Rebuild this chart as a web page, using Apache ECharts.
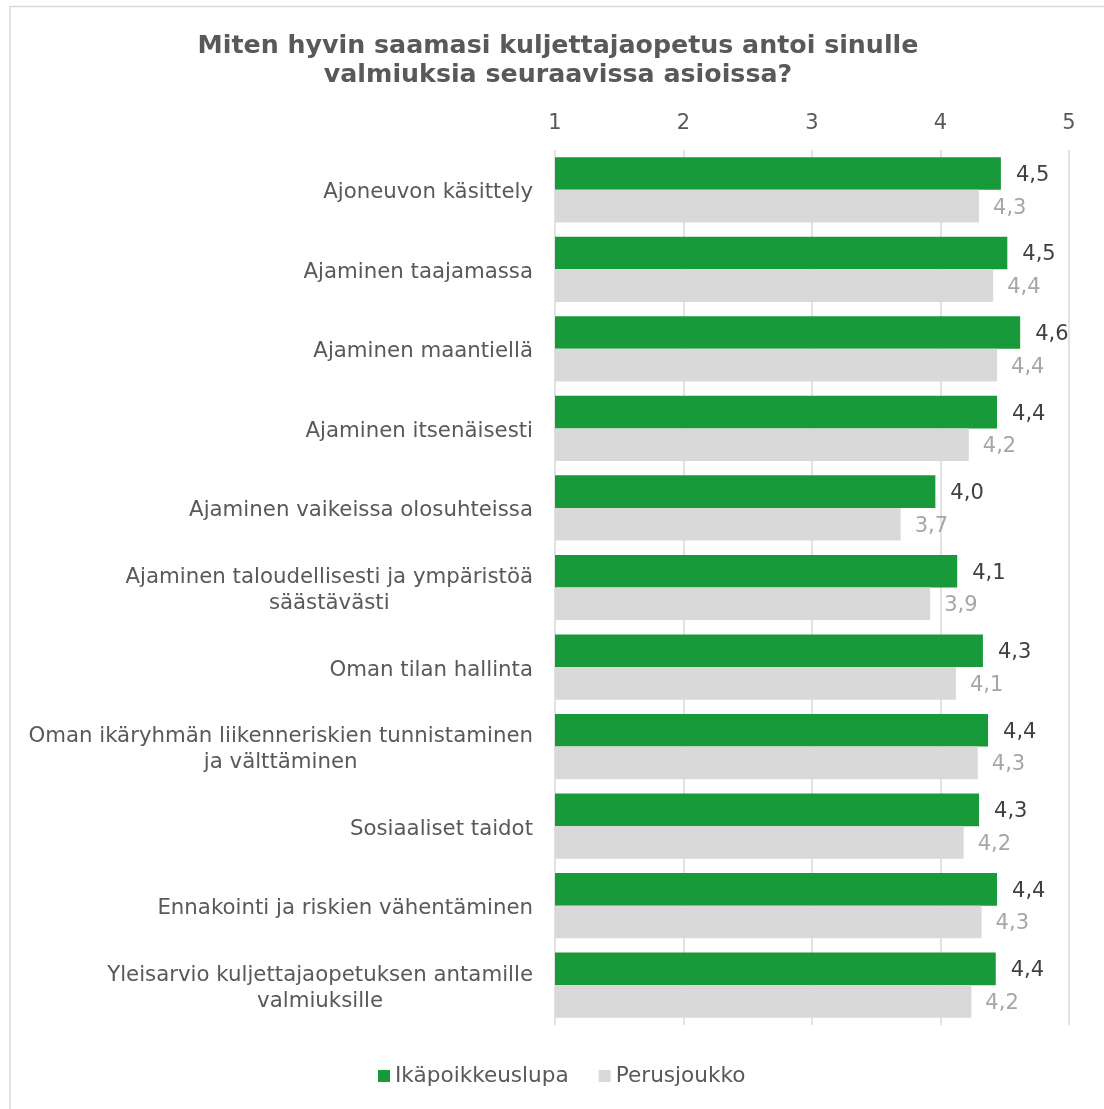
<!DOCTYPE html>
<html>
<head>
<meta charset="utf-8">
<style>
  html, body { margin: 0; padding: 0; background: #fff; }
  #chart { width: 1104px; height: 1109px; }
</style>
<script src="https://cdn.jsdelivr.net/npm/echarts@6/dist/echarts.min.js"></script>
</head>
<body>
<div id="chart"></div>
<script>
// Survey items (top to bottom)
const categories = [
  'Ajoneuvon käsittely',
  'Ajaminen taajamassa',
  'Ajaminen maantiellä',
  'Ajaminen itsenäisesti',
  'Ajaminen vaikeissa olosuhteissa',
  'Ajaminen taloudellisesti ja ympäristöä\nsäästävästi',
  'Oman tilan hallinta',
  'Oman ikäryhmän liikenneriskien tunnistaminen\nja välttäminen',
  'Sosiaaliset taidot',
  'Ennakointi ja riskien vähentäminen',
  'Yleisarvio kuljettajaopetuksen antamille\nvalmiuksille'
];

const seriesNames = ['Ikäpoikkeuslupa', 'Perusjoukko'];

// Mean ratings on a 1–5 scale
const ikapoikkeuslupa = [4.47, 4.52, 4.62, 4.44, 3.96, 4.13, 4.33, 4.37, 4.30, 4.44, 4.43];
const perusjoukko     = [4.30, 4.41, 4.44, 4.22, 3.69, 3.92, 4.12, 4.29, 4.18, 4.32, 4.24];

const axisTicks = [1, 2, 3, 4, 5];

const titleText = 'Miten hyvin saamasi kuljettajaopetus antoi sinulle\nvalmiuksia seuraavissa asioissa?';

const FONT = '"DejaVu Sans", Verdana, sans-serif';
const GREEN = '#189a3b';
const GREY = '#d9d9d9';
const TEXT = '#595959';

const fmt = v => v.value.toFixed(1).replace('.', ',');

const chart = echarts.init(document.getElementById('chart'), null, { renderer: 'canvas' });

chart.setOption({
  backgroundColor: '#fff',
  animation: false,
  graphic: [{
    type: 'rect',
    shape: { x: 10, y: 6.5, width: 1200, height: 1200 },
    style: { fill: 'none', stroke: '#d9d9d9', lineWidth: 1.5 },
    silent: true
  }],
  title: {
    text: titleText,
    left: 553,
    top: 26.5,
    textAlign: 'center',
    textStyle: {
      fontFamily: FONT,
      fontWeight: 'bold',
      fontSize: 25.3,
      lineHeight: 29,
      color: TEXT
    }
  },
  legend: {
    data: seriesNames,
    bottom: 17,
    left: 373,
    itemWidth: 12,
    itemHeight: 12,
    itemGap: 30,
    icon: 'rect',
    textStyle: { fontFamily: FONT, fontSize: 21.6, color: TEXT }
  },
  grid: {
    left: 555,
    right: 35,
    top: 150,
    bottom: 84,
    containLabel: false
  },
  xAxis: {
    type: 'value',
    position: 'top',
    min: axisTicks[0],
    max: axisTicks[axisTicks.length - 1],
    interval: 1,
    axisLine: { show: false },
    axisTick: { show: false },
    axisLabel: {
      fontFamily: FONT,
      fontSize: 21,
      color: TEXT,
      margin: 16
    },
    splitLine: { show: true, lineStyle: { color: GREY, width: 1.5 } }
  },
  yAxis: {
    type: 'category',
    data: categories,
    inverse: true,
    axisLine: { show: false },
    axisTick: { show: false },
    axisLabel: {
      margin: 22,
      padding: [6, 0, 0, 0],
      formatter: v => '{c|' + v + '}',
      rich: {
        c: {
          fontFamily: FONT,
          fontSize: 21.3,
          lineHeight: 26,
          color: TEXT,
          align: 'center'
        }
      }
    }
  },
  series: [
    {
      name: seriesNames[0],
      type: 'bar',
      data: ikapoikkeuslupa,
      barGap: '0%',
      barCategoryGap: '18%',
      itemStyle: { color: GREEN },
      label: {
        show: true,
        position: 'right',
        distance: 15,
        offset: [0, 2],
        formatter: fmt,
        fontFamily: FONT,
        fontSize: 21,
        color: '#404040'
      }
    },
    {
      name: seriesNames[1],
      type: 'bar',
      data: perusjoukko,
      barGap: '0%',
      barCategoryGap: '18%',
      itemStyle: { color: GREY },
      label: {
        show: true,
        position: 'right',
        distance: 14,
        offset: [0, 2],
        formatter: fmt,
        fontFamily: FONT,
        fontSize: 21,
        color: '#a6a6a6'
      }
    }
  ]
});
</script>
</body>
</html>
